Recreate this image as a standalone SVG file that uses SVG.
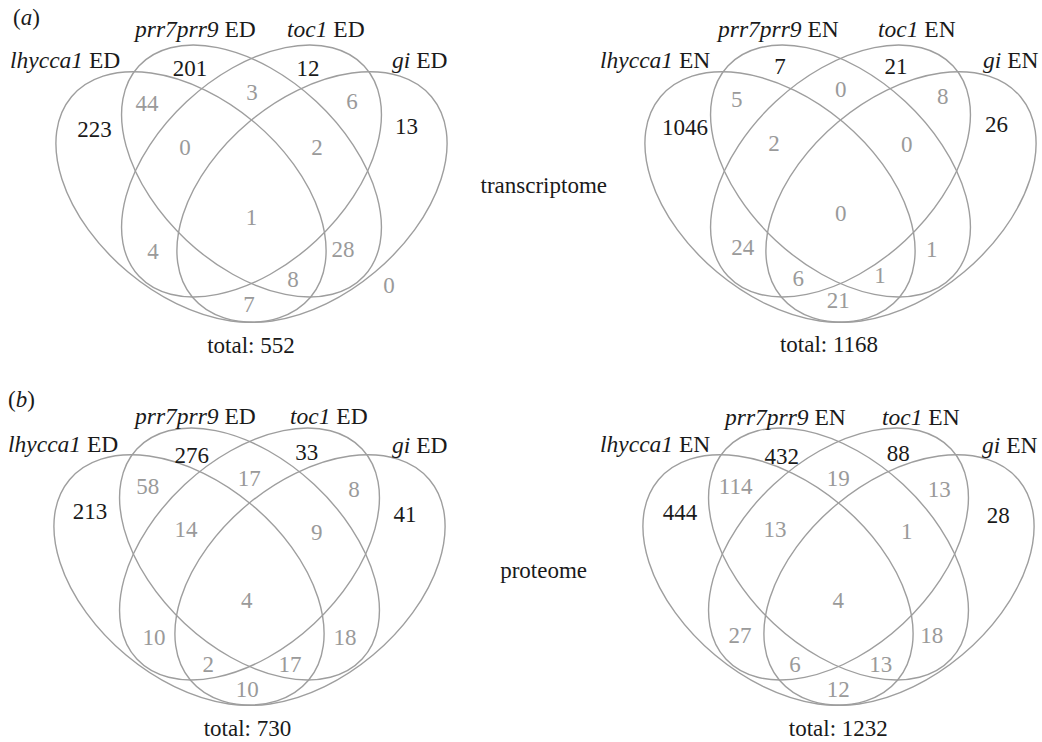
<svg xmlns="http://www.w3.org/2000/svg" width="1042" height="742" viewBox="0 0 1042 742">
<style>
.e{fill:none;stroke:#9e9e9e;stroke-width:1.4}
text{font-family:"Liberation Serif","Times New Roman",serif;font-size:23px}
.k{fill:#1a1a1a}
.g{fill:#9a9a9a}
.n{text-anchor:middle}
.i{font-style:italic}
.l{font-size:23.5px}
</style>
<rect width="1042" height="742" fill="#ffffff"/>

<g id="venn-a-ED">
<ellipse id="a1-lhycca1" class="e" cx="191" cy="197" rx="156" ry="98" transform="rotate(40 191 197)"/>
<ellipse id="a1-prr7prr9" class="e" cx="251.5" cy="171" rx="154" ry="95" transform="rotate(43 251.5 171)"/>
<ellipse id="a1-toc1" class="e" cx="251.5" cy="171" rx="154" ry="95" transform="rotate(-43 251.5 171)"/>
<ellipse id="a1-gi" class="e" cx="312" cy="197" rx="156" ry="98" transform="rotate(-40 312 197)"/>
<text class="k" x="13" y="25">(<tspan class="i">a</tspan>)</text>
<text class="k l" x="10" y="68"><tspan class="i">lhycca1</tspan> ED</text>
<text class="k l" x="135" y="37"><tspan class="i">prr7prr9</tspan> ED</text>
<text class="k l" x="287" y="37"><tspan class="i">toc1</tspan> ED</text>
<text class="k l" x="392" y="68"><tspan class="i">gi</tspan> ED</text>
<g class="n">
<text class="k" x="94.5" y="137">223</text>
<text class="k" x="190" y="76">201</text>
<text class="k" x="308" y="76">12</text>
<text class="k" x="406.5" y="134">13</text>
<text class="g" x="147" y="110.5">44</text>
<text class="g" x="252" y="99.5">3</text>
<text class="g" x="352" y="108.5">6</text>
<text class="g" x="185" y="155">0</text>
<text class="g" x="317" y="155">2</text>
<text class="g" x="251.5" y="225">1</text>
<text class="g" x="153" y="258.5">4</text>
<text class="g" x="343" y="257">28</text>
<text class="g" x="293" y="287">8</text>
<text class="g" x="389" y="293">0</text>
<text class="g" x="249" y="312">7</text>
<text class="k" x="251" y="352.5">total: 552</text>
</g>
</g>

<g id="venn-a-EN">
<ellipse id="a2-lhycca1" class="e" cx="780" cy="197" rx="156" ry="98" transform="rotate(40 780 197)"/>
<ellipse id="a2-prr7prr9" class="e" cx="840.5" cy="171" rx="154" ry="95" transform="rotate(43 840.5 171)"/>
<ellipse id="a2-toc1" class="e" cx="840.5" cy="171" rx="154" ry="95" transform="rotate(-43 840.5 171)"/>
<ellipse id="a2-gi" class="e" cx="901" cy="197" rx="156" ry="98" transform="rotate(-40 901 197)"/>
<text class="k l" x="600" y="68"><tspan class="i">lhycca1</tspan> EN</text>
<text class="k l" x="718" y="37"><tspan class="i">prr7prr9</tspan> EN</text>
<text class="k l" x="878" y="37"><tspan class="i">toc1</tspan> EN</text>
<text class="k l" x="983" y="68"><tspan class="i">gi</tspan> EN</text>
<g class="n">
<text class="k" x="685" y="135">1046</text>
<text class="k" x="780" y="74">7</text>
<text class="k" x="896" y="74">21</text>
<text class="k" x="996.5" y="131.5">26</text>
<text class="g" x="736.7" y="106.7">5</text>
<text class="g" x="840.7" y="97">0</text>
<text class="g" x="942.7" y="104">8</text>
<text class="g" x="774" y="151">2</text>
<text class="g" x="906.7" y="151.7">0</text>
<text class="g" x="840.7" y="220.7">0</text>
<text class="g" x="742.7" y="255">24</text>
<text class="g" x="931.7" y="256.7">1</text>
<text class="g" x="798.3" y="286">6</text>
<text class="g" x="880" y="283.3">1</text>
<text class="g" x="838.3" y="308.3">21</text>
<text class="k" x="829" y="352">total: 1168</text>
</g>
</g>

<text id="label-transcriptome" class="k" x="607" y="193" text-anchor="end">transcriptome</text>

<g id="venn-b-ED">
<ellipse id="b1-lhycca1" class="e" cx="189" cy="580" rx="156" ry="98" transform="rotate(40 189 580)"/>
<ellipse id="b1-prr7prr9" class="e" cx="249.5" cy="554" rx="154" ry="95" transform="rotate(43 249.5 554)"/>
<ellipse id="b1-toc1" class="e" cx="249.5" cy="554" rx="154" ry="95" transform="rotate(-43 249.5 554)"/>
<ellipse id="b1-gi" class="e" cx="310" cy="580" rx="156" ry="98" transform="rotate(-40 310 580)"/>
<text class="k" x="8" y="407">(<tspan class="i">b</tspan>)</text>
<text class="k l" x="8" y="452"><tspan class="i">lhycca1</tspan> ED</text>
<text class="k l" x="135" y="423.5"><tspan class="i">prr7prr9</tspan> ED</text>
<text class="k l" x="290" y="423.5"><tspan class="i">toc1</tspan> ED</text>
<text class="k l" x="392" y="453"><tspan class="i">gi</tspan> ED</text>
<g class="n">
<text class="k" x="90" y="519.3">213</text>
<text class="k" x="191.7" y="463.3">276</text>
<text class="k" x="306.7" y="460">33</text>
<text class="k" x="405" y="522.3">41</text>
<text class="g" x="147.7" y="494">58</text>
<text class="g" x="249.3" y="486">17</text>
<text class="g" x="354" y="496.7">8</text>
<text class="g" x="186" y="537.3">14</text>
<text class="g" x="316.7" y="540">9</text>
<text class="g" x="246.7" y="608.3">4</text>
<text class="g" x="154" y="645">10</text>
<text class="g" x="345" y="645">18</text>
<text class="g" x="208.3" y="671.7">2</text>
<text class="g" x="290" y="671.7">17</text>
<text class="g" x="247.3" y="697.3">10</text>
<text class="k" x="247.5" y="736">total: 730</text>
</g>
</g>

<g id="venn-b-EN">
<ellipse id="b2-lhycca1" class="e" cx="778" cy="580" rx="156" ry="98" transform="rotate(40 778 580)"/>
<ellipse id="b2-prr7prr9" class="e" cx="838.5" cy="554" rx="154" ry="95" transform="rotate(43 838.5 554)"/>
<ellipse id="b2-toc1" class="e" cx="838.5" cy="554" rx="154" ry="95" transform="rotate(-43 838.5 554)"/>
<ellipse id="b2-gi" class="e" cx="899" cy="580" rx="156" ry="98" transform="rotate(-40 899 580)"/>
<text class="k l" x="600" y="452"><tspan class="i">lhycca1</tspan> EN</text>
<text class="k l" x="725" y="425"><tspan class="i">prr7prr9</tspan> EN</text>
<text class="k l" x="882" y="425"><tspan class="i">toc1</tspan> EN</text>
<text class="k l" x="982" y="453"><tspan class="i">gi</tspan> EN</text>
<g class="n">
<text class="k" x="680" y="520">444</text>
<text class="k" x="781.7" y="464">432</text>
<text class="k" x="898.3" y="460.7">88</text>
<text class="k" x="998.3" y="523.3">28</text>
<text class="g" x="735.7" y="494">114</text>
<text class="g" x="838.3" y="486">19</text>
<text class="g" x="939.3" y="496.7">13</text>
<text class="g" x="775" y="537.3">13</text>
<text class="g" x="906.7" y="539.3">1</text>
<text class="g" x="838.3" y="608.3">4</text>
<text class="g" x="740" y="643.3">27</text>
<text class="g" x="931.7" y="643.3">18</text>
<text class="g" x="795" y="671.7">6</text>
<text class="g" x="880.7" y="671.7">13</text>
<text class="g" x="838.3" y="697.3">12</text>
<text class="k" x="838.3" y="736">total: 1232</text>
</g>
</g>

<text id="label-proteome" class="k" x="587" y="578" text-anchor="end">proteome</text>
</svg>
